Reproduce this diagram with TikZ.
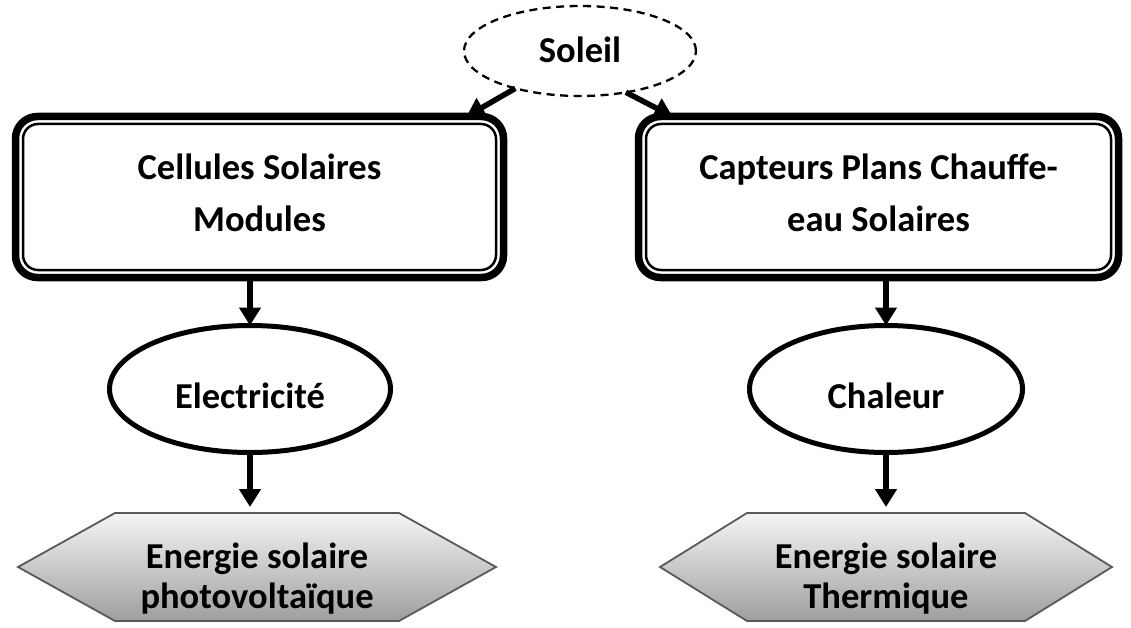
\documentclass[tikz,border=0pt]{standalone}
\usepackage{fontspec}
\setmainfont{Carlito}
\usetikzlibrary{arrows.meta,shapes.geometric}

% hexagonal banner with drop shadow: #1 centre, #2 half width, #3 half length of the flat edges
\newcommand\solarhex[3]{%
  \fill[hexshadow,shift={(4,5)}] (#1) ++(-#2,0) -- ++({#2-#3},-54) -- ++({2*#3},0)
    -- ++({#2-#3},54) -- ++({#3-#2},54) -- ++({-2*#3},0) -- cycle;
  \shade[hexfill] (#1) ++(-#2,0) -- ++({#2-#3},-54) -- ++({2*#3},0)
    -- ++({#2-#3},54) -- ++({#3-#2},54) -- ++({-2*#3},0) -- cycle;
}

\begin{document}
\begin{tikzpicture}[x=1pt,y=-1pt,
  boxtext/.style={font=\fontsize{36.5}{52}\selectfont\bfseries, align=center},
  outerbox/.style={boxtext, draw, line width=7.5pt, rounded corners=22pt,
    minimum height=161pt, inner sep=0pt, outer sep=0pt},
  innerline/.style={line width=2.5pt, rounded corners=15pt},
  oval/.style={ellipse, draw, line width=5pt, inner sep=0pt, outer sep=0pt,
    font=\fontsize{36.5}{44}\selectfont\bfseries, text height=38pt, text depth=0pt},
  flow/.style={line width=5.5pt, -{Triangle[width=21pt,length=18pt]}},
  hexfill/.style={top color=black!4, bottom color=black!38, draw=black!65, line width=1.8pt},
  hexshadow/.style={fill=black!28},
  hextext/.style={font=\fontsize{36.5}{40}\selectfont\bfseries, align=center, inner sep=0pt},
]
\useasboundingbox (0,0) rectangle (1131,628);

% the sun
\node[oval, dashed, line width=2.3pt, dash pattern=on 8pt off 5.5pt,
  minimum width=232pt, minimum height=90pt, text height=24pt] (sun) at (580,51) {Soleil};

% the two converters
\node[outerbox, minimum width=488pt] (cel) at (259.5,197)
  {Cellules Solaires\\Modules\rule[-8pt]{0pt}{8pt}};
\draw[innerline] ([shift={(7.5,7.5)}]cel.north west) rectangle ([shift={(-7.5,-7.5)}]cel.south east);

\node[outerbox, minimum width=480pt] (cap) at (878.5,197)
  {Capteurs Plans Chauffe-\\eau Solaires\rule[-8pt]{0pt}{8pt}};
\draw[innerline] ([shift={(7.5,7.5)}]cap.north west) rectangle ([shift={(-7.5,-7.5)}]cap.south east);

% what they produce
\node[oval, minimum width=281pt, minimum height=127pt] (elec) at (250,389) {Electricité};
\node[oval, minimum width=273pt, minimum height=127pt] (chal) at (886,389) {Chaleur};

% the resulting forms of solar energy
\coordinate (pvc) at (257,567);
\coordinate (thc) at (886,567);
\coordinate (pvtop) at (257,513);
\coordinate (thtop) at (886,513);
\solarhex{pvc}{239}{142}
\solarhex{thc}{226}{139}
\node[hextext] (pv) at (257,579) {Energie solaire\\photovoltaïque};
\node[hextext] (th) at (886,579) {Energie solaire\\Thermique};

% connectors
\draw[flow] (sun.210) -- ([xshift=-37pt]cel.north east);
\draw[flow] (sun.318) -- ([xshift=34pt]cap.north west);
\draw[flow] (elec.north |- cel.south) -- (elec.north);
\draw[flow] (chal.north |- cap.south) -- (chal.north);
\draw[flow, shorten >=6pt] (elec.south) -- (elec.south |- pvtop);
\draw[flow, shorten >=6pt] (chal.south) -- (chal.south |- thtop);
\end{tikzpicture}
\end{document}
